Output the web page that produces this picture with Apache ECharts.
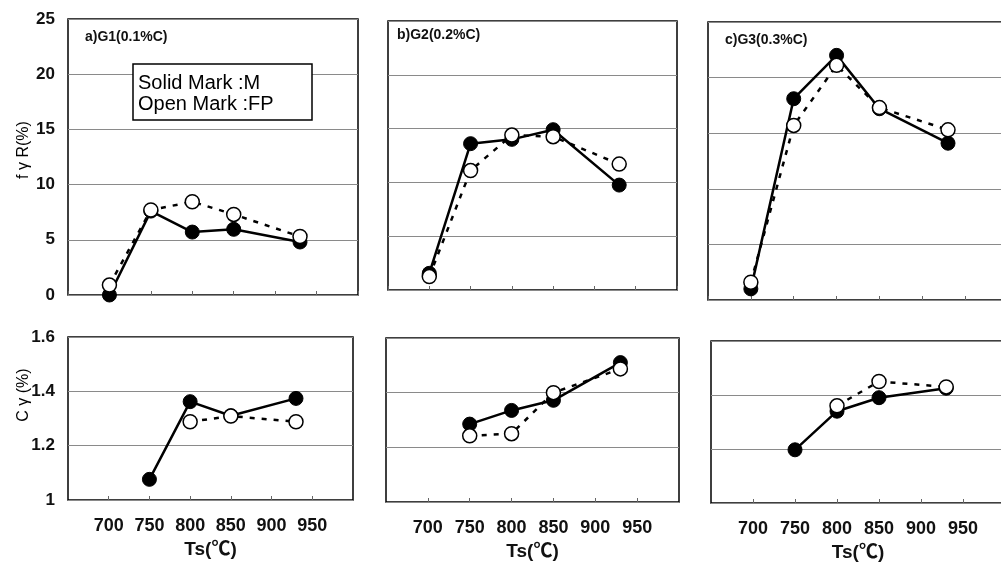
<!DOCTYPE html>
<html>
<head>
<meta charset="utf-8">
<script src="https://cdn.jsdelivr.net/npm/echarts@6/dist/echarts.min.js"></script>
<style>
html,body{margin:0;padding:0;background:#fff;}
#chart{width:1001px;height:563px;}
</style>
</head>
<body>
<div id="chart"></div>
<script>
// ---- data ----
const TS = [700, 750, 800, 850, 930];              // Ts (°C)
const xTicks = [650, 700, 750, 800, 850, 900, 950, 1000];
const panelTitles = ['a)G1(0.1%C)', 'b)G2(0.2%C)', 'c)G3(0.3%C)'];

// fγR (%)  solid = M, open = FP
const fgR_M_G1  = [0, 7.6, 5.7, 5.95, 4.8];
const fgR_FP_G1 = [0.9, 7.7, 8.45, 7.3, 5.3];
const fgR_M_G2  = [1.55, 13.6, 14.0, 14.9, 9.75];
const fgR_FP_G2 = [1.25, 11.1, 14.4, 14.25, 11.7];
const fgR_M_G3  = [1.0, 18.1, 22.0, 17.2, 14.1];
const fgR_FP_G3 = [1.6, 15.7, 21.1, 17.3, 15.3];

// Cγ (%)
const Cg_M_G1  = [null, 1.076, 1.362, 1.31, 1.374];
const Cg_FP_G1 = [null, null, 1.288, 1.309, 1.288];
const Cg_M_G2  = [null, 1.285, 1.335, 1.372, 1.51];
const Cg_FP_G2 = [null, 1.242, 1.25, 1.40, 1.487];
const Cg_M_G3  = [null, 1.197, 1.34, 1.39, 1.425];
const Cg_FP_G3 = [null, null, 1.36, 1.45, 1.43];

const yTop = {min: 0, max: 25, interval: 5};
const yBot = {min: 1, max: 1.6, interval: 0.2};

// ---- layout ----
const FONT = '"Liberation Sans", Arial, "Noto Sans CJK JP", sans-serif';
const grids = [
  {left: 68,  top: 19, width: 290, height: 276},
  {left: 388, top: 21, width: 289, height: 269},
  {left: 708, top: 22, width: 300, height: 278},
  {left: 68,  top: 337, width: 285, height: 163},
  {left: 386, top: 338, width: 293, height: 164},
  {left: 711, top: 341, width: 294, height: 162}
].map(g => Object.assign({show: true, borderColor: '#000', borderWidth: 1.5, backgroundColor: '#fff',
                          outerBoundsMode: 'none'}, g));

const xAxes = grids.map((g, i) => ({
  type: 'value', gridIndex: i, min: xTicks[0], max: xTicks[xTicks.length - 1], interval: 50,
  axisLine: {show: false},
  axisTick: {show: true, inside: true, length: 4, lineStyle: {color: '#666'}},
  splitLine: {show: false},
  axisLabel: {show: i >= 3, showMinLabel: false, showMaxLabel: false, margin: 17,
              fontSize: 18, fontWeight: 'bold', color: '#111', fontFamily: FONT},
  name: i >= 3 ? 'Ts(℃)' : '', nameLocation: 'middle', nameGap: 40,
  nameTextStyle: {fontSize: 19, fontWeight: 'bold', color: '#111', fontFamily: FONT}
}));

const yAxes = grids.map((g, i) => {
  const s = i < 3 ? yTop : yBot;
  return {
    type: 'value', gridIndex: i, min: s.min, max: s.max, interval: s.interval,
    axisLine: {show: false}, axisTick: {show: false},
    splitLine: {show: true, lineStyle: {color: '#8a8a8a', width: 1}},
    axisLabel: {show: i === 0 || i === 3, margin: 13, fontSize: 17, fontWeight: 'bold', color: '#111', fontFamily: FONT,
                formatter: v => (i === 3 ? (Math.abs(v - 1) < 1e-9 ? '1' : v.toFixed(1)) : String(v))}
  };
});

const pairs = arr => TS.map((t, k) => [t, arr[k]]).filter(p => p[1] !== null);

function solid(idx, arr) {
  return {type: 'line', xAxisIndex: idx, yAxisIndex: idx, data: pairs(arr), clip: false, z: 3,
    symbol: 'circle', symbolSize: 14, itemStyle: {color: '#000', borderColor: '#000', borderWidth: 1},
    lineStyle: {color: '#000', width: 2.5}, animation: false};
}
function open(idx, arr) {
  return {type: 'line', xAxisIndex: idx, yAxisIndex: idx, data: pairs(arr), clip: false, z: 4,
    symbol: 'circle', symbolSize: 14, itemStyle: {color: '#fff', borderColor: '#000', borderWidth: 1.5},
    lineStyle: {color: '#000', width: 2.5, type: [5, 7]}, animation: false};
}

const series = [
  solid(0, fgR_M_G1), open(0, fgR_FP_G1),
  solid(1, fgR_M_G2), open(1, fgR_FP_G2),
  solid(2, fgR_M_G3), open(2, fgR_FP_G3),
  solid(3, Cg_M_G1), open(3, Cg_FP_G1),
  solid(4, Cg_M_G2), open(4, Cg_FP_G2),
  solid(5, Cg_M_G3), open(5, Cg_FP_G3)
];

const titlePos = [[85, 30], [397, 28], [725, 33]];
const graphic = [
  ...panelTitles.map((t, i) => ({type: 'text', left: titlePos[i][0], top: titlePos[i][1], z: 10,
    style: {text: t, fontSize: 14, fontWeight: 'bold', fill: '#111', fontFamily: FONT}})),
  {type: 'rect', shape: {x: 133, y: 64, width: 179, height: 56}, z: 10,
   style: {fill: '#fff', stroke: '#000', lineWidth: 1.5}},
  {type: 'text', x: 138, y: 83, z: 11, style: {text: 'Solid Mark :M', fontSize: 20, fill: '#000', fontFamily: FONT, verticalAlign: 'middle'}},
  {type: 'text', x: 138, y: 104, z: 11, style: {text: 'Open Mark :FP', fontSize: 20, fill: '#000', fontFamily: FONT, verticalAlign: 'middle'}},
  {type: 'text', x: 24, y: 150, rotation: Math.PI / 2, z: 10,
   style: {text: 'f γ R(%)', fontSize: 16, fill: '#000', fontFamily: FONT, align: 'center', verticalAlign: 'middle'}},
  {type: 'text', x: 24, y: 395, rotation: Math.PI / 2, z: 10,
   style: {text: 'C γ (%)', fontSize: 16, fill: '#000', fontFamily: FONT, align: 'center', verticalAlign: 'middle'}}
];

const chart = echarts.init(document.getElementById('chart'), null, {renderer: 'canvas'});
chart.setOption({
  backgroundColor: '#fff',
  animation: false,
  grid: grids, xAxis: xAxes, yAxis: yAxes, series: series, graphic: graphic
});
</script>
</body>
</html>
